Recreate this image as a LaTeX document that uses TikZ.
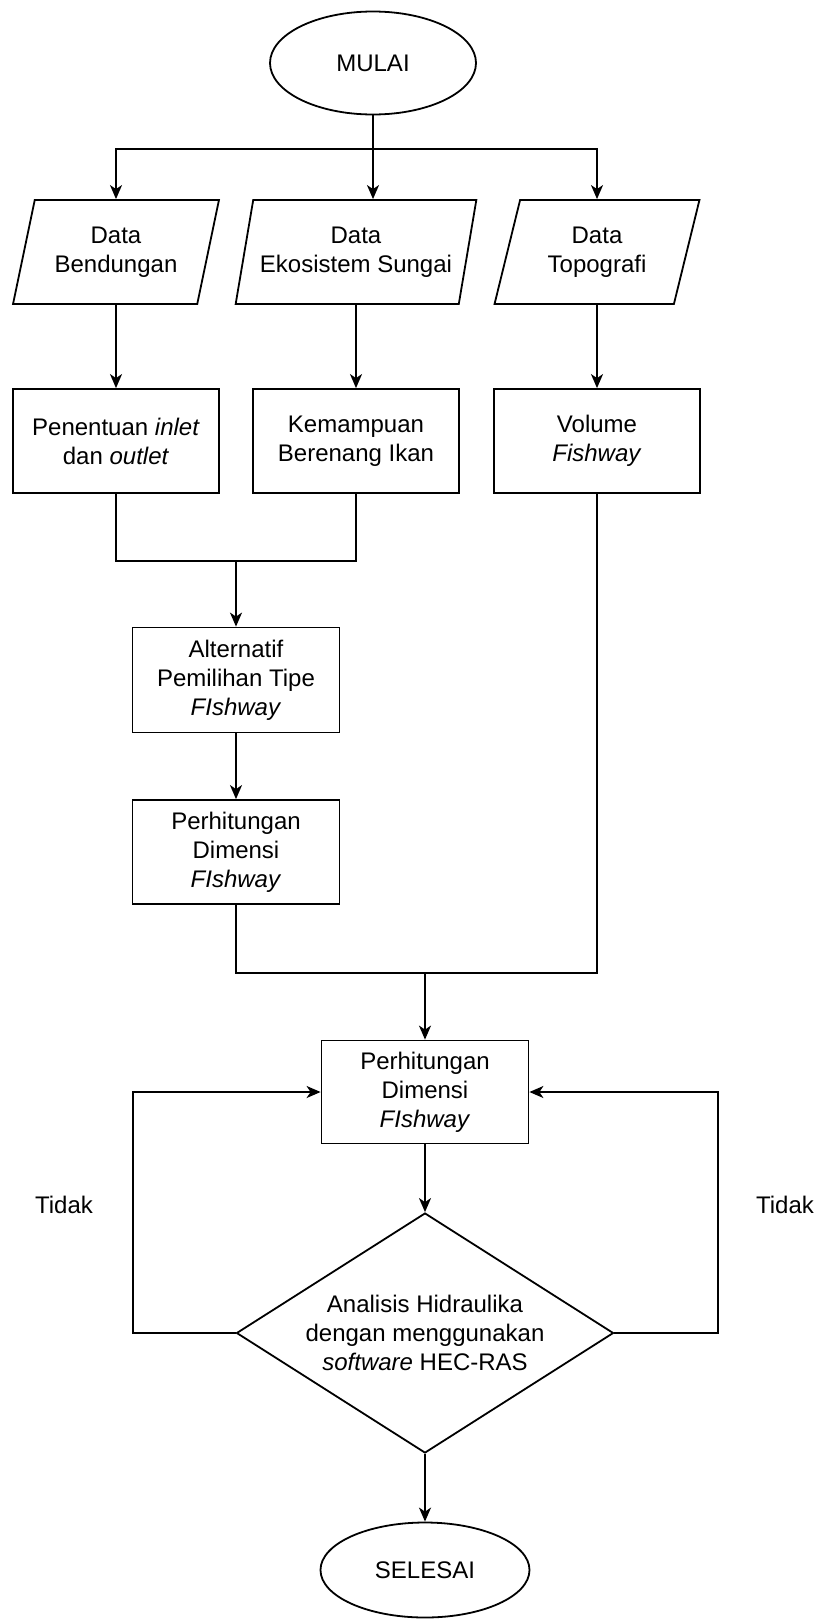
\documentclass[tikz,border=0pt]{standalone}
\usepackage{fontspec}
\setmainfont{Liberation Sans}
\usetikzlibrary{shapes.geometric,arrows.meta}
\begin{document}
\begin{tikzpicture}[x=1pt,y=-1pt,
  every node/.style={font=\fontsize{24}{29}\selectfont, align=center, inner sep=0pt, line width=1.8pt},
  term/.style={draw, ellipse},
  io/.style={draw, trapezium, trapezium left angle=72, trapezium right angle=108, trapezium stretches=true, minimum height=104},
  proc/.style={draw, rectangle, minimum width=206, minimum height=104},
  dec/.style={draw, diamond, minimum width=377, minimum height=240, aspect=1.57},
  lbl/.style={},
  arr/.style={line width=1.8pt, -{Stealth[length=14pt,width=12pt,inset=4pt]}},
  ln/.style={line width=1.8pt}
]
\useasboundingbox (0,0) rectangle (814,1620);

\node[term, minimum width=206, minimum height=103] (mulai) at (373,63) {MULAI};

\node[io, minimum width=206] (p1) at (116,252) {Data\\Bendungan};
\node[io, minimum width=241] (p2) at (356,252) {Data\\Ekosistem Sungai};
\node[io, minimum width=205] (p3) at (597,252) {Data\\Topografi};

\node[proc] (b1) at (116,441) {Penentuan \textit{inlet}\\dan \textit{outlet}};
\node[proc] (b2) at (356,441) {Kemampuan\\Berenang Ikan};
\node[proc] (b3) at (597,441) {Volume\\\textit{Fishway}};

\node[proc, minimum width=207, minimum height=105] (alt) at (236,680) {Alternatif\\Pemilihan Tipe\\\textit{FIshway}};
\node[proc, minimum width=207] (per1) at (236,852) {Perhitungan\\Dimensi\\\textit{FIshway}};
\node[proc, minimum width=207, minimum height=103] (per2) at (425,1092) {Perhitungan\\Dimensi\\\textit{FIshway}};
\node[dec] (dec) at (425,1333) {Analisis Hidraulika\\dengan menggunakan\\\textit{software} HEC-RAS};
\node[term, minimum width=209, minimum height=95] (selesai) at (425,1570) {SELESAI};

\node[lbl] (t1) at (64,1205) {Tidak};
\node[lbl] (t2) at (785,1205) {Tidak};

% branching from MULAI
\coordinate (br) at (373,149);
\draw[ln] (mulai.south) -- (br);
\draw[arr] (br) -| (p1 |- p1.north);
\draw[arr] (br) -- (br |- p2.north);
\draw[arr] (br) -| (p3 |- p3.north);

\draw[arr] (p1 |- p1.south) -- (b1.north);
\draw[arr] (p2 |- p2.south) -- (b2.north);
\draw[arr] (p3 |- p3.south) -- (b3.north);

\coordinate (j1) at (236,561);
\draw[ln] (b1.south) |- (j1) -| (b2.south);
\draw[arr] (j1) -- (alt.north);
\draw[arr] (alt.south) -- (per1.north);

\coordinate (j2) at (425,973);
\draw[ln] (per1.south) |- (j2) -| (b3.south);
\draw[arr] (j2) -- (per2.north);
\draw[arr] (per2.south) -- (dec.north);
\draw[arr] (dec.south) -- (selesai.north);

\coordinate (lc) at (133,1333);
\coordinate (rc) at (718,1333);
\draw[arr] (dec.west) -- (lc) |- (per2.west);
\draw[arr] (dec.east) -- (rc) |- (per2.east);
\end{tikzpicture}
\end{document}
